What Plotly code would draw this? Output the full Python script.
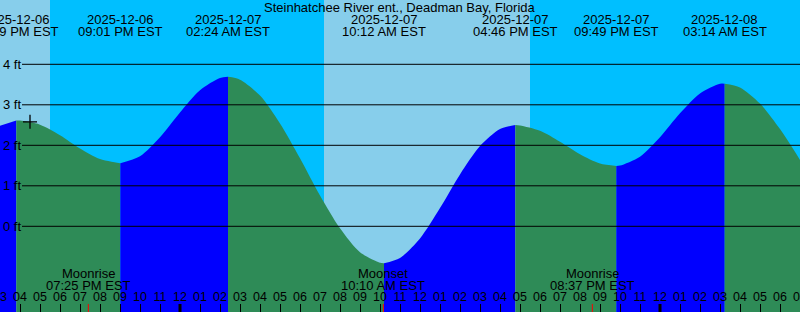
import pandas as pd
import plotly.graph_objects as go

TITLE = "Steinhatchee River ent., Deadman Bay, Florida"
START = "2025-12-06 15:00"
END = "2025-12-08 07:00"

# hourly tide heights (ft), 15:00 on 12-06 .. 07:00 on 12-08
hourly_heights = [2.48, 2.61, 2.51, 2.25, 1.92, 1.66, 1.56, 1.73, 2.20, 2.81,
                  3.36, 3.66, 3.62, 3.23, 2.54, 1.68, 0.76, -0.05, -0.64, -0.90,
                  -0.78, -0.30, 0.45, 1.28, 1.98, 2.40, 2.49, 2.36, 2.09, 1.78,
                  1.55, 1.50, 1.72, 2.20, 2.79, 3.28, 3.52, 3.43, 3.03, 2.40, 1.64]

# high / low tide events
event_times = ["2025-12-06 15:49", "2025-12-06 21:01", "2025-12-07 02:24",
               "2025-12-07 10:12", "2025-12-07 16:46", "2025-12-07 21:49",
               "2025-12-08 03:14"]
event_heights = [2.61, 1.56, 3.69, -0.91, 2.50, 1.49, 3.52]

# sun
sunset_sunrise = ["2025-12-06 17:30", "2025-12-07 07:12", "2025-12-07 17:30"]
# moon
moon_times = ["2025-12-06 19:25", "2025-12-07 10:10", "2025-12-07 20:37"]
moon_names = ["Moonrise", "Moonset", "Moonrise"]

# current-time mark
mark_time = ["2025-12-06 16:30"]
mark_height = [2.58]

y_ticks = [0, 1, 2, 3, 4]
y_labels = ["0 ft", "1 ft", "2 ft", "3 ft", "4 ft"]
Y_RANGE = [-2.116, 5.588]

DAY = "#87CEEB"
NIGHT = "#00BFFF"
RISE = "#0000FF"
FALL = "#2E8B57"
FONT = "Liberation Sans"

hours = pd.date_range(START, END, freq="h")
df = pd.concat([
    pd.DataFrame({"t": hours, "h": hourly_heights, "ev": False}),
    pd.DataFrame({"t": pd.to_datetime(event_times), "h": event_heights, "ev": True}),
]).sort_values("t").drop_duplicates("t", keep="last").reset_index(drop=True)

fig = go.Figure()

# day / night backgrounds
edges = [pd.Timestamp(START)] + list(pd.to_datetime(sunset_sunrise)) + [pd.Timestamp(END)]
for i in range(len(edges) - 1):
    fig.add_shape(type="rect", xref="x", yref="paper", x0=edges[i], x1=edges[i + 1],
                  y0=0, y1=1, fillcolor=DAY if i % 2 == 0 else NIGHT,
                  line_width=0, layer="below")

# segments between extrema
ev_idx = list(df.index[df["ev"]])
cuts = sorted(set([0] + ev_idx + [len(df) - 1]))
for a, b in zip(cuts[:-1], cuts[1:]):
    seg = df.iloc[a:b + 1]
    color = RISE if seg["h"].iloc[-1] > seg["h"].iloc[0] else FALL
    base_x = [seg["t"].iloc[0], seg["t"].iloc[-1]]
    fig.add_trace(go.Scatter(x=base_x, y=[Y_RANGE[0] - 1] * 2, mode="lines",
                             line=dict(width=0, color=color), hoverinfo="skip",
                             showlegend=False))
    fig.add_trace(go.Scatter(x=seg["t"], y=seg["h"], mode="lines",
                             line=dict(width=0, color=color, shape="spline", smoothing=0.8),
                             fill="tonexty", fillcolor=color, hoverinfo="skip",
                             showlegend=False))

fig.add_trace(go.Scatter(x=pd.to_datetime(mark_time), y=mark_height, mode="markers",
                         marker=dict(symbol="cross-thin", size=10,
                                     line=dict(width=1.3, color="black")),
                         showlegend=False))

# grid lines
for v in y_ticks:
    fig.add_shape(type="line", xref="paper", yref="y", x0=22 / 800, x1=1, y0=v, y1=v,
                  line=dict(color="black", width=1), layer="above")

# midnight ticks
for m in pd.date_range(START, END, freq="h"):
    if m.hour == 0:
        fig.add_shape(type="line", xref="x", yref="paper", x0=m, x1=m, y0=0, y1=8 / 312,
                      line=dict(color="black", width=3), layer="above")
# moon ticks
for mt in moon_times:
    fig.add_shape(type="line", xref="x", yref="paper", x0=mt, x1=mt, y0=0, y1=8 / 312,
                  line=dict(color="red", width=1), layer="above")

ann_font = dict(family=FONT, size=13, color="black")
fig.add_annotation(text=TITLE, xref="paper", yref="paper", x=0.5, y=1 - 7.5 / 312,
                   showarrow=False, font=ann_font, xanchor="center", yanchor="middle")
for t in pd.to_datetime(event_times):
    fig.add_annotation(text=t.strftime("%Y-%m-%d"), x=t, xref="x", yref="paper",
                       y=1 - 19 / 312, showarrow=False, font=ann_font,
                       xanchor="center", yanchor="middle")
    fig.add_annotation(text=t.strftime("%I:%M %p EST"), x=t, xref="x", yref="paper",
                       y=1 - 31.5 / 312, showarrow=False, font=ann_font,
                       xanchor="center", yanchor="middle")
for t, n in zip(pd.to_datetime(moon_times), moon_names):
    fig.add_annotation(text=n, x=t, xref="x", yref="paper", y=1 - 273 / 312,
                       showarrow=False, font=ann_font, xanchor="center", yanchor="middle")
    fig.add_annotation(text=t.strftime("%I:%M %p EST"), x=t, xref="x", yref="paper",
                       y=1 - 285 / 312, showarrow=False, font=ann_font,
                       xanchor="center", yanchor="middle")

fig.update_layout(
    width=800, height=312, margin=dict(l=0, r=0, t=0, b=0, autoexpand=False),
    paper_bgcolor=NIGHT, plot_bgcolor=NIGHT, showlegend=False,
    xaxis=dict(type="date", range=[START, END], tickformat="%I", dtick=3600000,
               tick0=START, ticks="inside", ticklen=8, tickcolor="black", tickwidth=1,
               ticklabelposition="inside", ticklabeloverflow="allow", automargin=False,
               showgrid=False, zeroline=False, showline=False,
               tickfont=dict(family=FONT, size=12.5, color="black"),
               fixedrange=True),
    yaxis=dict(range=Y_RANGE, tickmode="array", tickvals=y_ticks, ticktext=y_labels,
               ticks="", ticklabelposition="inside", ticklabeloverflow="allow",
               automargin=False, showgrid=False, zeroline=False,
               showline=False, tickfont=dict(family=FONT, size=13, color="black"),
               fixedrange=True),
)

fig.write_html("out.html")
